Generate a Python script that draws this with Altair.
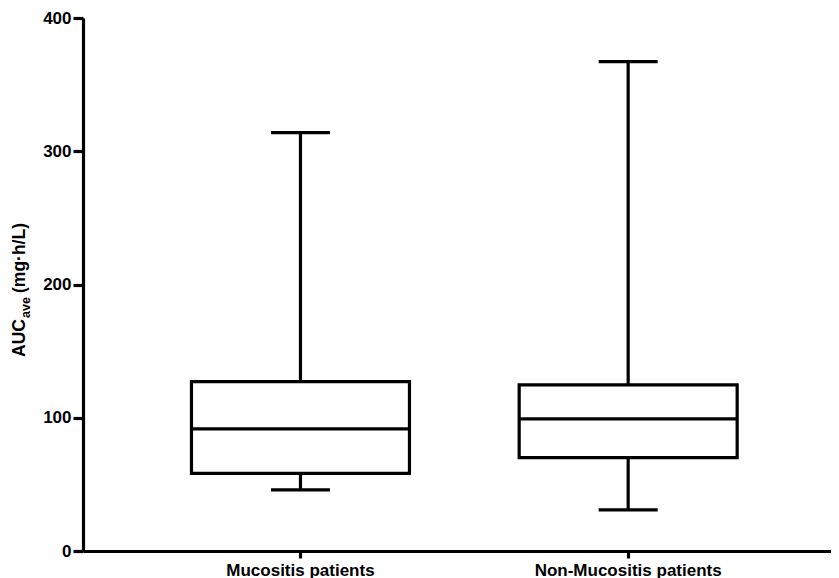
import altair as alt
import pandas as pd

categories = ["Mucositis patients", "Non-Mucositis patients"]
mins = [45.8, 30.8]
q1s = [58.3, 70.0]
medians = [91.6, 99.1]
q3s = [127.1, 124.6]
maxs = [314.0, 367.3]
y_ticks = [0, 100, 200, 300, 400]

df = pd.DataFrame({
    "group": categories,
    "lo": mins,
    "q1": q1s,
    "med": medians,
    "q3": q3s,
    "hi": maxs,
})

FONT = "Liberation Sans"
LW = 3.2

xenc = alt.X(
    "group:N",
    sort=categories,
    scale=alt.Scale(paddingInner=0, paddingOuter=0.1413, align=0.579),
    axis=alt.Axis(title=None, labelAngle=0, tickSize=7, labelPadding=4,
                  labelFont=FONT, labelFontSize=17, labelFontWeight="bold",
                  labelColor="black", domainColor="black", domainWidth=LW,
                  tickColor="black", tickWidth=LW, labelLimit=400),
)
yscale = alt.Scale(domain=[0, 400], nice=False, zero=True)
yaxis = alt.Axis(title=None, values=y_ticks, tickSize=10, labelPadding=2,
                 labelFont=FONT, labelFontSize=17, labelFontWeight="bold",
                 labelColor="black", domainColor="black", domainWidth=LW,
                 tickColor="black", tickWidth=LW, grid=False)

base = alt.Chart(df)

lower = base.mark_rule(color="black", strokeWidth=LW).encode(
    x=xenc, y=alt.Y("lo:Q", scale=yscale, axis=yaxis), y2="q1:Q")
upper = base.mark_rule(color="black", strokeWidth=LW).encode(
    x=xenc, y=alt.Y("q3:Q", scale=yscale, axis=yaxis), y2="hi:Q")
box = base.mark_bar(width=218, fill="white", stroke="black", strokeWidth=LW,
                    opacity=1).encode(
    x=xenc, y=alt.Y("q1:Q", scale=yscale, axis=yaxis), y2="q3:Q")
median = base.mark_tick(color="black", size=218, thickness=LW, opacity=1).encode(
    x=xenc, y=alt.Y("med:Q", scale=yscale, axis=yaxis))
capl = base.mark_tick(color="black", size=59, thickness=LW, opacity=1).encode(
    x=xenc, y=alt.Y("lo:Q", scale=yscale, axis=yaxis))
caph = base.mark_tick(color="black", size=59, thickness=LW, opacity=1).encode(
    x=xenc, y=alt.Y("hi:Q", scale=yscale, axis=yaxis))

title_df = pd.DataFrame({"t": ["AUC"]})
t1 = alt.Chart(title_df).mark_text(
    text="AUC", align="left", baseline="middle", angle=270,
    font=FONT, fontSize=17.5, fontWeight="bold", color="black"
).encode(x=alt.value(-63), y=alt.value(339))
t2 = alt.Chart(title_df).mark_text(
    text="ave", align="left", baseline="middle", angle=270,
    font=FONT, fontSize=12.5, fontWeight="bold", color="black"
).encode(x=alt.value(-57), y=alt.value(300))
t3 = alt.Chart(title_df).mark_text(
    text="(mg·h/L)", align="left", baseline="middle", angle=270,
    font=FONT, fontSize=17.5, fontWeight="bold", color="black"
).encode(x=alt.value(-63), y=alt.value(275))

chart = alt.layer(lower, upper, box, median, capl, caph, t1, t2, t3).properties(
    width=748, height=533,
    autosize=alt.AutoSizeParams(type="none"),
    padding={"left": 75, "top": 10, "right": 0, "bottom": 27},
    background="white",
).configure_view(stroke=None)

chart.save("out.html", embed_options={"renderer": "svg", "actions": False})
